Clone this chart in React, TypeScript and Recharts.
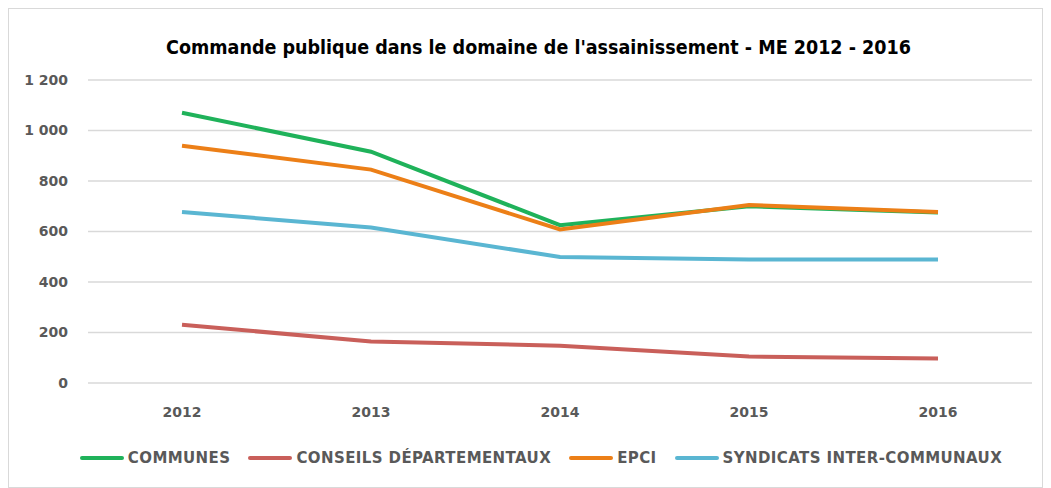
import { LineChart, Line, XAxis, YAxis, CartesianGrid, Legend } from "recharts";

const years = ["2012", "2013", "2014", "2015", "2016"];
const communes = [1070, 916, 625, 700, 675];
const conseils = [231, 164, 148, 105, 97];
const epci = [940, 845, 608, 705, 677];
const syndicats = [677, 616, 499, 489, 489];

const series = [
  { key: "communes", name: "COMMUNES", color: "#1fb25a" },
  { key: "conseils", name: "CONSEILS DÉPARTEMENTAUX", color: "#c95f5a" },
  { key: "epci", name: "EPCI", color: "#ec7f17" },
  { key: "syndicats", name: "SYNDICATS INTER-COMMUNAUX", color: "#5ab6d2" },
];

const data = years.map((year, i) => ({
  year,
  communes: communes[i],
  conseils: conseils[i],
  epci: epci[i],
  syndicats: syndicats[i],
}));

const titleFont = "'DejaVu Sans Condensed', 'DejaVu Sans', sans-serif";
const font = "'DejaVu Sans', sans-serif";
const tickStyle = { fill: "#595959", fontSize: 14, fontWeight: "bold", fontFamily: font };

const fmt = (v: number) => String(v).replace(/\B(?=(\d{3})+(?!\d))/g, " ");

function LegendBox() {
  return (
    <div
      style={{
        display: "flex",
        justifyContent: "center",
        gap: 18,
        fontFamily: font,
        fontWeight: "bold",
        fontSize: 15,
        letterSpacing: 0.4,
        color: "#595959",
        paddingLeft: 41,
      }}
    >
      {series.map((s) => (
        <div key={s.key} style={{ display: "flex", alignItems: "center" }}>
          <span
            style={{
              display: "inline-block",
              width: 44,
              height: 4,
              borderRadius: 2,
              background: s.color,
              marginRight: 4,
            }}
          />
          {s.name}
        </div>
      ))}
    </div>
  );
}

export default function App() {
  return (
    <div
      style={{
        position: "relative",
        width: 1035,
        height: 480,
        border: "1px solid #d9d9d9",
        boxSizing: "border-box",
        background: "#fff",
      }}
    >
      <div
        style={{
          position: "absolute",
          top: 27,
          left: 0,
          width: "100%",
          boxSizing: "border-box",
          paddingLeft: 26,
          textAlign: "center",
          fontFamily: titleFont,
          fontWeight: "bold",
          fontSize: 19.5,
          color: "#000",
        }}
      >
        Commande publique dans le domaine de l'assainissement - ME 2012 - 2016
      </div>
      <LineChart
        width={1033}
        height={478}
        data={data}
        margin={{ top: 71, right: 10, bottom: 46, left: 0 }}
      >
        <CartesianGrid vertical={false} stroke="#d9d9d9" strokeWidth={1.5} />
        <XAxis
          dataKey="year"
          axisLine={false}
          tickLine={false}
          tick={tickStyle}
          tickMargin={18}
          height={40}
          padding={{ left: 94, right: 94 }}
        />
        <YAxis
          width={79}
          domain={[0, 1200]}
          ticks={[0, 200, 400, 600, 800, 1000, 1200]}
          tickFormatter={fmt}
          axisLine={false}
          tickLine={false}
          tickMargin={14}
          tick={tickStyle}
        />
        <Legend verticalAlign="bottom" content={() => <LegendBox />} wrapperStyle={{ bottom: 20 }} />
        {series.map((s) => (
          <Line
            key={s.key}
            type="linear"
            dataKey={s.key}
            name={s.name}
            stroke={s.color}
            strokeWidth={4}
            dot={false}
            isAnimationActive={false}
          />
        ))}
      </LineChart>
    </div>
  );
}
